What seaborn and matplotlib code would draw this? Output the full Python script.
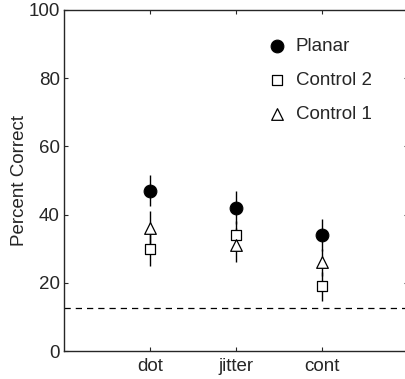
import numpy as np
import pandas as pd
import seaborn as sns
import matplotlib.pyplot as plt

# veriler: kategori ve seri degerleri
categories = ["dot", "jitter", "cont"]
planar_mean = [47, 42, 34]
planar_err = [4.5, 4.8, 4.7]
control2_mean = [30, 34, 19]
control2_err = [5, 4, 4.2]
control1_mean = [36, 31, 26]
control1_err = [5, 5, 4]
chance_level = 12.5
yticks = [0, 20, 40, 60, 80, 100]

sns.set_style("ticks")
plt.rcParams["font.family"] = ["Liberation Sans", "DejaVu Sans"]
plt.rcParams["font.size"] = 13.5

fig = plt.figure(figsize=(4.06, 3.79), dpi=100)
ax = fig.add_axes([64 / 406, (379 - 351) / 379, 344 / 406, 341 / 379])

x = np.arange(1, len(categories) + 1)
df = pd.DataFrame({"x": x, "planar": planar_mean, "c2": control2_mean, "c1": control1_mean})

# hata cubuklari
ax.errorbar(x, control1_mean, yerr=control1_err, fmt="none", ecolor="black", elinewidth=1, capsize=0, zorder=1)
ax.errorbar(x, control2_mean, yerr=control2_err, fmt="none", ecolor="black", elinewidth=1, capsize=0, zorder=1)
ax.errorbar(x, planar_mean, yerr=planar_err, fmt="none", ecolor="black", elinewidth=1, capsize=0, zorder=1)

sns.scatterplot(data=df, x="x", y="planar", marker="o", color="black", edgecolor="black",
                s=85, label="Planar", ax=ax, zorder=3)
sns.scatterplot(data=df, x="x", y="c2", marker="s", color="white", edgecolor="black",
                linewidth=0.9, s=45, label="Control 2", ax=ax, zorder=3)
sns.scatterplot(data=df, x="x", y="c1", marker="^", color="white", edgecolor="black",
                linewidth=0.9, s=70, label="Control 1", ax=ax, zorder=3)

ax.axhline(chance_level, color="black", linestyle=(0, (5, 4)), linewidth=0.9, zorder=0)

ax.set_xlim(0, 4)
ax.set_ylim(0, 100)
ax.set_xticks(x)
ax.set_xticklabels(categories)
ax.set_yticks(yticks)
ax.set_xlabel("")
ax.set_ylabel("Percent Correct", labelpad=0)
for s in ax.spines.values():
    s.set_linewidth(1.0)
    s.set_visible(True)
ax.tick_params(direction="in", length=3, width=0.8, top=True, right=True)
ax.tick_params(axis="y", pad=3)
ax.tick_params(axis="x", pad=5)

ax.legend(loc="upper left", bbox_to_anchor=(0.538, 0.968), frameon=False,
          labelspacing=0.9, handletextpad=0.4, handlelength=1.2, borderpad=0.4)

fig.savefig("out.png", dpi=100)
